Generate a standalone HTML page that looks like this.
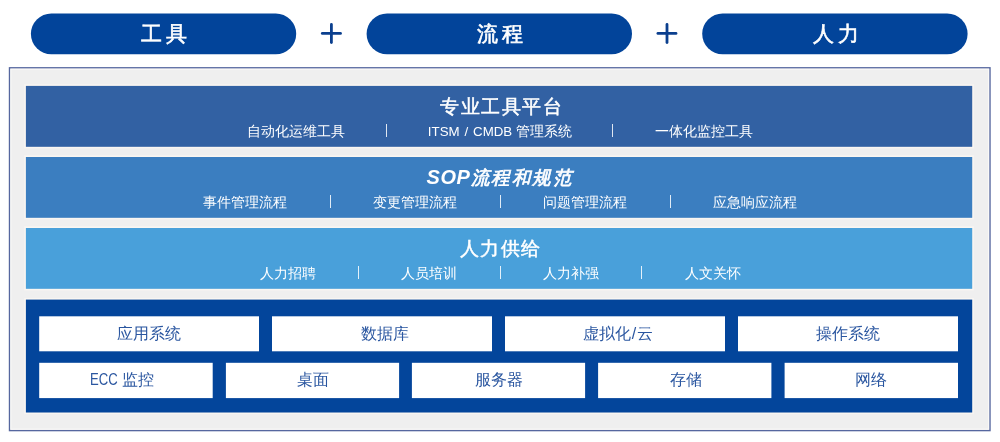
<!DOCTYPE html>
<html>
<head>
<meta charset="utf-8">
<style>
html,body{margin:0;padding:0;}
body{width:1000px;height:442px;background:#ffffff;position:relative;overflow:hidden;font-family:"Liberation Sans",sans-serif;}
svg.bg{position:absolute;left:0;top:0;}
.t{position:absolute;white-space:nowrap;text-align:center;width:300px;line-height:1;will-change:transform;}
.pt{color:#fff;font-size:21px;font-weight:400;letter-spacing:4px;text-indent:4px;-webkit-text-stroke:0.6px #fff;}
.title{color:#fff;font-size:18.5px;font-weight:400;letter-spacing:1.5px;text-indent:1.5px;-webkit-text-stroke:0.5px #fff;}
.sub{color:#fff;font-size:14px;}
.sep{position:absolute;width:1.1px;background:rgba(255,255,255,0.85);}
.bx{color:#2a56a0;font-size:16px;}
</style>
</head>
<body>
<svg class="bg" width="1000" height="442" viewBox="0 0 1000 442">
  <rect x="30.9" y="13.4" width="265.3" height="40.9" rx="20.45" fill="#02449a"/>
  <rect x="366.6" y="13.4" width="265.4" height="40.9" rx="20.45" fill="#02449a"/>
  <rect x="702.2" y="13.4" width="265.4" height="40.9" rx="20.45" fill="#02449a"/>
  <g stroke="#0b3f8e" stroke-width="2.8" stroke-linecap="round">
    <line x1="322.3" y1="33.4" x2="340.5" y2="33.4"/>
    <line x1="331.4" y1="24.4" x2="331.4" y2="42.5"/>
    <line x1="657.9" y1="33.4" x2="676" y2="33.4"/>
    <line x1="667" y1="24.4" x2="667" y2="42.5"/>
  </g>
  <rect x="9.5" y="67.8" width="980.5" height="362.8" fill="#efefef" stroke="#56679f" stroke-width="1.4"/>
  <rect x="10.9" y="69.2" width="977.7" height="360" fill="none" stroke="#fbfaf8" stroke-width="1"/>
  <g fill="none" stroke="#f9f6f2" stroke-width="1.6">
    <rect x="25.1" y="85.1" width="947.9" height="62.5"/>
    <rect x="25.1" y="156.2" width="947.9" height="62.4"/>
    <rect x="25.1" y="227.2" width="947.9" height="62.4"/>
    <rect x="25.1" y="298.8" width="947.9" height="114.5"/>
  </g>
  <rect x="25.9" y="85.9" width="946.3" height="60.9" fill="#3261a3"/>
  <rect x="25.9" y="157" width="946.3" height="60.8" fill="#3b7ec0"/>
  <rect x="25.9" y="228" width="946.3" height="60.8" fill="#49a0da"/>
  <rect x="25.9" y="299.6" width="946.3" height="112.9" fill="#03459b"/>
  <g fill="#ffffff">
    <rect x="39.2" y="316.3" width="219.8" height="35" />
    <rect x="272" y="316.3" width="220" height="35" />
    <rect x="505" y="316.3" width="220" height="35" />
    <rect x="738" y="316.3" width="220" height="35" />
    <rect x="39.2" y="362.8" width="173.5" height="35.3" />
    <rect x="225.9" y="362.8" width="173.2" height="35.3" />
    <rect x="411.9" y="362.8" width="173.2" height="35.3" />
    <rect x="598.1" y="362.8" width="173.3" height="35.3" />
    <rect x="784.6" y="362.8" width="173.4" height="35.3" />
  </g>
</svg>

<div class="t pt" style="left:14.2px;top:23px;">工具</div>
<div class="t pt" style="left:349.5px;top:23px;">流程</div>
<div class="t pt" style="left:686px;top:23px;">人力</div>

<div class="t title" style="left:350.7px;top:98px;">专业工具平台</div>
<div class="t title" style="left:348.7px;top:167px;font-style:italic;-webkit-text-stroke:0.7px #fff;"><span style="font-weight:700;-webkit-text-stroke:0;font-size:20px;letter-spacing:0.6px">SOP</span>流程和规范</div>
<div class="t title" style="left:350px;top:240px;">人力供给</div>

<div class="t sub" style="left:146px;top:124px;">自动化运维工具</div>
<div class="t sub" style="left:350px;top:124px;"><span style="font-size:13.3px;word-spacing:1.2px">ITSM / CMDB</span> 管理系统</div>
<div class="t sub" style="left:554px;top:124px;">一体化监控工具</div>
<div class="sep" style="left:386.4px;top:124px;height:13px;"></div>
<div class="sep" style="left:612.4px;top:124px;height:13px;"></div>

<div class="t sub" style="left:94.5px;top:195px;">事件管理流程</div>
<div class="t sub" style="left:264.7px;top:195px;">变更管理流程</div>
<div class="t sub" style="left:435.2px;top:195px;">问题管理流程</div>
<div class="t sub" style="left:605.4px;top:195px;">应急响应流程</div>
<div class="sep" style="left:329.5px;top:195px;height:13px;"></div>
<div class="sep" style="left:499.5px;top:195px;height:13px;"></div>
<div class="sep" style="left:670px;top:195px;height:13px;"></div>

<div class="t sub" style="left:138.3px;top:266px;">人力招聘</div>
<div class="t sub" style="left:279.1px;top:266px;">人员培训</div>
<div class="t sub" style="left:420.9px;top:266px;">人力补强</div>
<div class="t sub" style="left:562.6px;top:266px;">人文关怀</div>
<div class="sep" style="left:357.8px;top:266px;height:13px;"></div>
<div class="sep" style="left:499.5px;top:266px;height:13px;"></div>
<div class="sep" style="left:641px;top:266px;height:13px;"></div>

<div class="t bx" style="left:-1px;top:326px;">应用系统</div>
<div class="t bx" style="left:235px;top:326px;">数据库</div>
<div class="t bx" style="left:467.5px;top:326px;">虚拟化<span style="margin:0 1.2px">/</span>云</div>
<div class="t bx" style="left:698px;top:326px;">操作系统</div>

<div class="t bx" style="left:-28px;top:371.5px;"><span style="display:inline-block;transform:scaleX(0.82);transform-origin:right center;margin-left:-6px">ECC</span> 监控</div>
<div class="t bx" style="left:162.6px;top:371.5px;">桌面</div>
<div class="t bx" style="left:349.2px;top:371.5px;">服务器</div>
<div class="t bx" style="left:535.8px;top:371.5px;">存储</div>
<div class="t bx" style="left:721.4px;top:371.5px;">网络</div>
</body>
</html>
